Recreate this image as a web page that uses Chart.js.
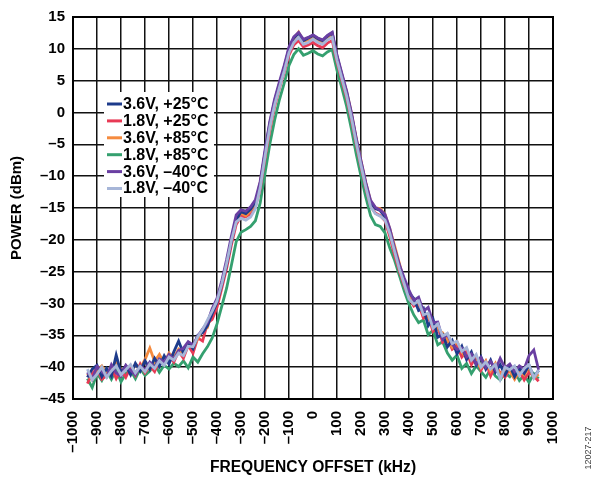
<!DOCTYPE html>
<html>
<head>
<meta charset="utf-8">
<title>Spectrum vs supply and temperature</title>
<script src="https://cdn.jsdelivr.net/npm/chart.js"></script>
<style>
  body { margin: 0; background: #fff; }
  #wrap { width: 599px; height: 480px; }
</style>
</head>
<body>
<div id="wrap"><canvas id="specChart" width="599" height="480"></canvas></div>
<script>
// frequency offset points (kHz)
const freqs = [
  -940, -920, -900, -880, -860, -840, -820, -800, -780, -760,
  -740, -720, -700, -680, -660, -640, -620, -600, -580, -560,
  -540, -520, -500, -480, -460, -440, -420, -400, -380, -360,
  -340, -320, -300, -280, -260, -240, -220, -200, -180, -160,
  -140, -120, -100, -80, -60, -40, -20, 0, 20, 40,
  60, 80, 100, 120, 140, 160, 180, 200, 220, 240,
  260, 280, 300, 320, 340, 360, 380, 400, 420, 440,
  460, 480, 500, 520, 540, 560, 580, 600, 620, 640,
  660, 680, 700, 720, 740, 760, 780, 800, 820, 840,
  860, 880, 900, 920, 940
];

// power (dBm) per condition
const v36_p25 = [
  -41.6, -40.3, -39.7, -41.5, -40.2, -41.4, -38.1, -40.9, -39.8, -41.2,
  -39.4, -40.6, -39.0, -40.3, -38.6, -39.9, -38.2, -39.5, -37.6, -35.9,
  -37.8, -36.2, -37.1, -35.0, -34.6, -33.5, -31.6, -29.8,
  -27.0, -23.9, -20.2, -16.9, -15.6, -15.9, -15.2, -14.1, -11.3, -6.3,
  -1.7, 1.8, 4.5, 7.0, 10.1, 11.7, 12.4, 11.3, 11.7, 12.1,
  11.6, 11.3, 12.0, 12.5, 8.8, 5.9, 3.1, -0.3, -4.3, -7.9,
  -11.3, -14.2, -15.1, -15.4, -16.4, -18.7, -21.6, -24.1, -26.4,
  -28.3, -29.2, -31.1, -30.7, -33.5, -32.4, -35.3, -34.9, -36.8, -35.8,
  -37.9, -36.7, -38.8, -37.6, -39.7, -38.4, -40.3, -38.9, -40.8, -39.6,
  -41.2, -39.8, -41.5, -40.2, -41.0, -39.7, -41.6, -40.5
];
const v18_p25 = [
  -42.6, -41.0, -40.2, -41.9, -41.3, -40.1, -41.8, -40.4, -41.6, -40.0,
  -41.3, -39.5, -40.9, -39.8, -40.7, -38.9, -39.6, -38.1, -39.2, -37.5,
  -38.6, -36.6, -37.8, -35.4, -35.9, -33.1, -32.5, -30.6,
  -27.6, -24.5, -20.8, -17.6, -16.3, -16.4, -15.9, -14.8, -12.0, -7.2,
  -2.8, 0.9, 3.8, 6.3, 9.0, 10.6, 11.3, 10.3, 10.6, 11.0,
  10.5, 10.2, 10.9, 11.3, 7.9, 5.1, 2.3, -1.1, -5.0, -8.5,
  -11.9, -14.7, -15.8, -16.2, -17.0, -19.5, -22.4, -24.9, -27.2,
  -29.0, -30.4, -30.0, -32.3, -31.9, -34.4, -33.6, -36.1, -35.5, -37.2,
  -36.6, -38.4, -37.5, -39.6, -38.3, -40.5, -39.1, -41.4, -39.8, -40.9,
  -41.6, -40.2, -41.8, -40.6, -42.0, -40.8, -41.4, -42.2
];
const v36_p85 = [
  -41.0, -42.0, -40.5, -39.8, -41.1, -40.3, -39.0, -40.8, -40.1, -41.0,
  -39.5, -40.2, -38.8, -37.0, -39.1, -38.0, -39.4, -37.8, -38.5, -37.2,
  -37.9, -36.4, -36.9, -35.5, -34.3, -33.8, -31.2, -29.5,
  -26.8, -23.6, -20.0, -16.8, -15.8, -16.2, -15.4, -14.3, -11.0, -6.6,
  -2.2, 1.4, 4.3, 7.1, 9.8, 11.5, 12.6, 11.2, 11.4, 11.9,
  11.4, 11.1, 11.8, 12.3, 8.7, 6.0, 3.3, -0.1, -4.0, -7.6,
  -11.0, -13.9, -15.0, -15.1, -16.0, -18.3, -20.9, -23.7, -26.6,
  -28.4, -29.8, -29.9, -31.4, -32.1, -33.3, -34.1, -34.6, -35.8, -36.9,
  -36.0, -37.6, -38.6, -38.0, -39.2, -40.1, -39.0, -40.6, -39.4, -41.3,
  -40.2, -40.7, -41.9, -40.5, -41.2, -40.0, -41.7, -41.1
];
const v18_p85 = [
  -41.8, -43.2, -41.0, -42.1, -40.6, -41.9, -40.4, -42.3, -41.0, -40.5,
  -41.8, -40.2, -41.3, -40.6, -39.5, -40.8, -39.7, -40.3, -39.4, -39.9,
  -39.0, -40.1, -38.4, -39.2, -37.9, -36.8, -35.4, -33.2,
  -30.4, -27.6, -24.0, -20.3, -18.8, -18.4, -17.9, -17.0, -14.2, -9.6,
  -5.0, -1.2, 2.0, 4.6, 7.4, 9.1, 10.0, 9.0, 9.3, 9.7,
  9.2, 8.9, 9.5, 9.9, 6.6, 3.9, 1.0, -2.6, -6.5, -10.0,
  -13.3, -16.2, -17.6, -17.9, -18.9, -21.3, -23.2, -25.6, -28.0,
  -30.1, -31.8, -33.0, -32.6, -34.9, -34.2, -36.5, -36.0, -37.8, -38.9,
  -38.1, -40.2, -39.4, -41.0, -39.8, -40.7, -41.6, -40.3, -41.4, -42.0,
  -40.9, -41.5, -40.6, -42.1, -41.2, -42.4, -41.0, -41.8
];
const v36_m40 = [
  -40.8, -41.9, -39.9, -40.6, -41.5, -39.6, -40.9, -41.4, -39.7, -40.5,
  -41.2, -39.8, -40.4, -39.2, -40.0, -38.7, -39.2, -38.0, -38.8, -37.4,
  -37.0, -36.0, -36.5, -35.1, -34.0, -33.0, -30.8, -29.2,
  -26.4, -23.1, -19.4, -16.1, -15.3, -15.5, -14.8, -13.7, -10.8, -5.9,
  -1.4, 2.1, 4.8, 7.4, 10.3, 11.9, 12.6, 11.5, 11.8, 12.2,
  11.7, 11.4, 12.1, 12.6, 9.0, 6.2, 3.4, 0.0, -4.0, -7.6,
  -11.0, -13.8, -14.9, -15.3, -16.0, -18.2, -21.3, -23.9, -26.0,
  -27.9, -29.5, -29.0, -31.2, -30.6, -33.0, -32.9, -35.6, -34.8, -36.4,
  -37.2, -37.0, -38.4, -37.9, -39.5, -38.5, -40.0, -39.1, -40.4, -38.6,
  -40.1, -39.5, -40.7, -39.8, -40.3, -38.2, -37.3, -40.4
];
const v18_m40 = [
  -40.3, -42.0, -41.1, -40.0, -41.6, -40.6, -39.8, -41.2, -40.4, -39.6,
  -40.9, -39.9, -40.7, -39.5, -40.2, -39.0, -39.7, -38.4, -38.9, -37.8,
  -38.2, -36.7, -36.8, -35.2, -34.1, -32.6, -31.2, -29.6,
  -26.9, -23.7, -20.1, -17.2, -16.6, -16.9, -16.4, -15.1, -11.8, -6.9,
  -2.3, 1.2, 3.9, 6.5, 9.4, 11.0, 11.8, 10.7, 11.0, 11.5,
  11.0, 10.7, 11.4, 11.8, 8.2, 5.4, 2.6, -0.8, -4.7, -8.3,
  -11.7, -14.8, -15.9, -16.3, -16.9, -19.0, -21.8, -24.6, -26.9,
  -29.3, -30.1, -29.6, -31.8, -31.5, -33.9, -33.2, -35.1, -34.7, -36.3,
  -35.9, -37.5, -36.9, -38.9, -38.0, -40.0, -39.2, -40.3, -39.6, -41.9,
  -40.0, -40.4, -39.8, -41.3, -40.2, -39.6, -41.7, -40.5
];

const seriesLabels = ['3.6V, +25°C', '1.8V, +25°C', '3.6V, +85°C', '1.8V, +85°C', '3.6V, \u201340°C', '1.8V, \u201340°C'];
const seriesColors = ['#1d3b8b', '#e83a55', '#f58b3f', '#35a06f', '#6a3fa2', '#a7b6d8'];
const seriesData = [v36_p25, v18_p25, v36_p85, v18_p85, v36_m40, v18_m40];
// drawing order: light blue on top, green at the bottom
const drawOrder = [2, 4, 3, 5, 1, 0];

const FONT = "'Liberation Sans', Arial, sans-serif";

function dash(v) {
  return v < 0 ? '\u2013' + Math.abs(v) : String(v);
}

// legend inside plot + frame + side note
const extras = {
  id: 'extras',
  afterDatasetsDraw(chart) {
    const ctx = chart.ctx;
    const a = chart.chartArea;
    ctx.save();
    // frame
    ctx.strokeStyle = '#000';
    ctx.lineWidth = 2;
    ctx.strokeRect(a.left, a.top, a.right - a.left, a.bottom - a.top);

    // legend box
    ctx.fillStyle = '#fff';
    ctx.fillRect(104, 92, 110, 105);
    ctx.font = 'bold 16px ' + FONT;
    ctx.textBaseline = 'middle';
    ctx.textAlign = 'left';
    seriesLabels.forEach((lab, i) => {
      const y = 104 + i * 16.9;
      ctx.strokeStyle = seriesColors[i];
      ctx.lineWidth = 3;
      ctx.beginPath();
      ctx.moveTo(107, y);
      ctx.lineTo(122, y);
      ctx.stroke();
      ctx.fillStyle = '#000';
      ctx.fillText(lab, 123, y + 0.5);
    });

    // figure number
    ctx.translate(589, 448);
    ctx.rotate(-Math.PI / 2);
    ctx.font = '9px ' + FONT;
    ctx.fillStyle = '#444';
    ctx.textAlign = 'center';
    ctx.textBaseline = 'middle';
    ctx.fillText('12027-217', 0, 0);
    ctx.restore();
  }
};

new Chart(document.getElementById('specChart').getContext('2d'), {
  type: 'line',
  data: {
    datasets: seriesData.map((arr, i) => ({
      label: seriesLabels[i],
      data: arr.map((y, k) => ({ x: freqs[k], y: y })),
      borderColor: seriesColors[i],
      backgroundColor: seriesColors[i],
      borderWidth: 2.8,
      pointRadius: 0,
      tension: 0,
      order: drawOrder[i]
    }))
  },
  options: {
    responsive: false,
    animation: false,
    layout: { padding: { top: 16, right: 46, left: 0, bottom: 0 } },
    plugins: {
      legend: { display: false },
      tooltip: { enabled: false }
    },
    scales: {
      x: {
        type: 'linear',
        min: -1000,
        max: 1000,
        afterFit: (s) => { s.height = 81; },
        ticks: {
          stepSize: 100,
          autoSkip: false,
          minRotation: 90,
          maxRotation: 90,
          padding: 12,
          color: '#000',
          font: { family: FONT, size: 15, weight: 'bold' },
          callback: (v) => dash(v)
        },
        grid: { color: '#111', lineWidth: 1.5, drawTicks: false },
        border: { color: '#000', width: 2 },
        title: {
          display: true,
          text: 'FREQUENCY OFFSET (kHz)',
          color: '#000',
          font: { family: FONT, size: 15.6, weight: 'bold' },
          padding: { top: 0, bottom: 3 }
        }
      },
      y: {
        min: -45,
        max: 15,
        afterFit: (s) => { s.width = 73; },
        ticks: {
          stepSize: 5,
          padding: 8,
          color: '#000',
          font: { family: FONT, size: 15, weight: 'bold' },
          callback: (v) => dash(v)
        },
        grid: { color: '#111', lineWidth: 1.5, drawTicks: false },
        border: { color: '#000', width: 2 },
        title: {
          display: true,
          text: 'POWER (dBm)',
          color: '#000',
          font: { family: FONT, size: 15, weight: 'bold' },
          padding: { top: 8, bottom: 0 }
        }
      }
    }
  },
  plugins: [extras]
});
</script>
</body>
</html>
